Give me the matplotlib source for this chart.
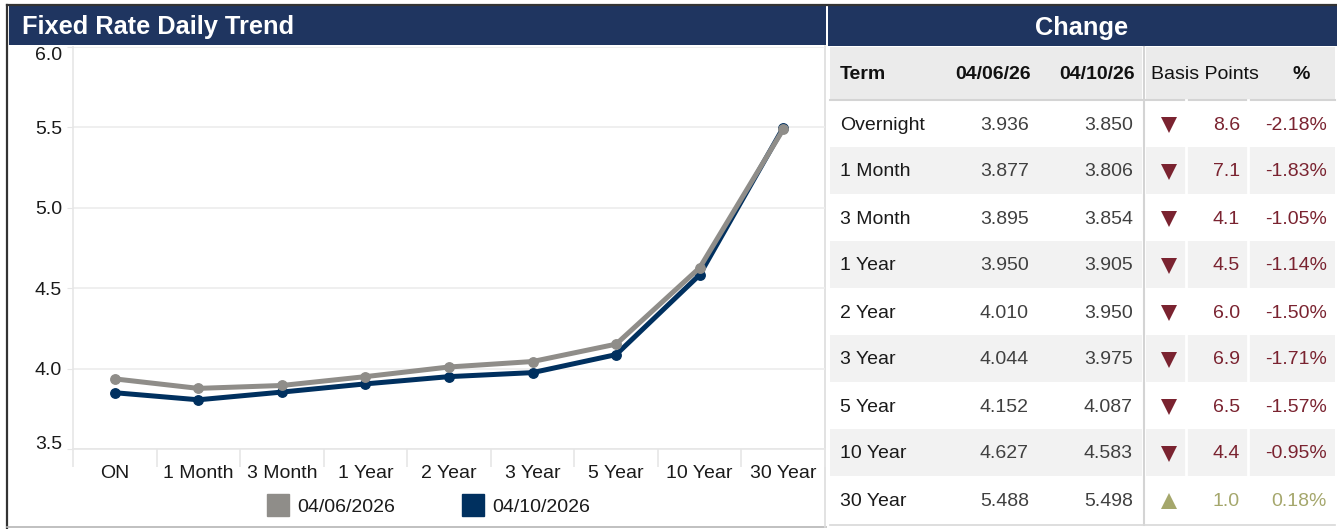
import matplotlib
matplotlib.use("Agg")
import matplotlib.pyplot as plt
from matplotlib.patches import Rectangle
from matplotlib.lines import Line2D
import numpy as np

plt.rcParams['font.family'] = ['Liberation Sans', 'DejaVu Sans']

# data
categories = ["ON", "1 Month", "3 Month", "1 Year", "2 Year", "3 Year", "5 Year", "10 Year", "30 Year"]
terms = ["Overnight", "1 Month", "3 Month", "1 Year", "2 Year", "3 Year", "5 Year", "10 Year", "30 Year"]
rate_0406 = [3.936, 3.877, 3.895, 3.950, 4.010, 4.044, 4.152, 4.627, 5.488]
rate_0410 = [3.850, 3.806, 3.854, 3.905, 3.950, 3.975, 4.087, 4.583, 5.498]
basis_points = [8.6, 7.1, 4.1, 4.5, 6.0, 6.9, 6.5, 4.4, 1.0]
pct_change = [-2.18, -1.83, -1.05, -1.14, -1.50, -1.71, -1.57, -0.95, 0.18]
yticks = [3.5, 4.0, 4.5, 5.0, 5.5, 6.0]
legend_labels = ["04/06/2026", "04/10/2026"]
col_headers = ["Term", "04/06/26", "04/10/26"]

NAVY_HDR = "#1f3560"
NAVY = "#00305f"
GRAY = "#8f8d89"
RED = "#7a2330"
OLIVE = "#a5a76c"
FS = 14

W, H = 1337, 529
fig = plt.figure(figsize=(W / 100, H / 100), dpi=100)

# pixel-space overlay for panels and table
bg = fig.add_axes([0, 0, 1, 1], zorder=0)
bg.set_xlim(0, W)
bg.set_ylim(H, 0)
bg.axis('off')

# headers
bg.add_patch(Rectangle((9, 6), 817, 39, color=NAVY_HDR, lw=0))
bg.add_patch(Rectangle((828, 6), 509, 40, color=NAVY_HDR, lw=0))
bg.text(22, 34, "Fixed Rate Daily Trend", color="white", fontsize=18.3,
        fontweight="bold", va="baseline", ha="left")
bg.text(1082, 35, "Change", color="white", fontsize=18.3,
        fontweight="bold", va="baseline", ha="center")

# outer frame
bg.plot([7, W], [5, 5], color="#333333", lw=1.6)
bg.plot([7, 7], [5, 528], color="#333333", lw=1.6)
bg.plot([7, 826], [527, 527], color="#b5b5b5", lw=1.2)
bg.plot([825, 825], [46, 527], color="#dddddd", lw=1.2)

# table
L0, L1 = 830, 1142
R0, R1 = 1146, 1335
hdr_top, hdr_bot = 47, 100
row_h = 47
bg.add_patch(Rectangle((L0, hdr_top), L1 - L0, hdr_bot - hdr_top, color="#ebebeb", lw=0))
bg.add_patch(Rectangle((R0, hdr_top), R1 - R0, hdr_bot - hdr_top, color="#ebebeb", lw=0))
for i in range(len(terms)):
    top = hdr_bot + i * row_h
    if i % 2 == 1:
        bg.add_patch(Rectangle((L0, top), L1 - L0, row_h, color="#f2f2f2", lw=0))
        bg.add_patch(Rectangle((R0, top), R1 - R0, row_h, color="#f2f2f2", lw=0))
bottom = hdr_bot + len(terms) * row_h
bg.plot([L0, L1], [hdr_bot, hdr_bot], color="#d4d4d4", lw=1.5)
bg.plot([R0, R1], [hdr_bot, hdr_bot], color="#d4d4d4", lw=1.5)
bg.plot([1144, 1144], [hdr_top, bottom + 2], color="#d4d4d4", lw=1.5)
for xs in [1186, 1248]:
    bg.plot([xs, xs], [hdr_bot, bottom], color="white", lw=2)
bg.plot([L0, R1], [bottom + 2, bottom + 2], color="#d8d8d8", lw=1.2)

hy = (hdr_top + hdr_bot) / 2 + 1
bg.text(840, hy, col_headers[0], fontsize=FS, fontweight="bold", color="#111111", va="center", ha="left")
bg.text(1031, hy, col_headers[1], fontsize=FS, fontweight="bold", color="#111111", va="center", ha="right")
bg.text(1135, hy, col_headers[2], fontsize=FS, fontweight="bold", color="#111111", va="center", ha="right")
bg.text(1151, hy, "Basis Points", fontsize=FS, color="#111111", va="center", ha="left")
bg.text(1301, hy, "%", fontsize=FS, fontweight="bold", color="#111111", va="center", ha="center")

for i, term in enumerate(terms):
    cy = hdr_bot + i * row_h + row_h / 2 + 1.5
    up = pct_change[i] > 0
    c = OLIVE if up else RED
    bg.text(840, cy, term, fontsize=FS, color="#1a1a1a", va="center", ha="left")
    bg.text(1029, cy, f"{rate_0406[i]:.3f}", fontsize=FS, color="#404040", va="center", ha="right")
    bg.text(1133, cy, f"{rate_0410[i]:.3f}", fontsize=FS, color="#404040", va="center", ha="right")
    bg.plot(1169, cy, marker="^" if up else "v", color=c, markersize=11.5, mew=0)
    bg.text(1240, cy, f"{basis_points[i]:.1f}", fontsize=FS, color=c, va="center", ha="right")
    bg.text(1327, cy, f"{pct_change[i]:.2f}%", fontsize=FS, color=c, va="center", ha="right")

# chart
ax = fig.add_axes([73 / W, (H - 449) / H, (825 - 73) / W, (449 - 47) / H], zorder=2)
ax.set_facecolor("none")
x = np.arange(len(categories))
ax.plot(x, rate_0410, color=NAVY, lw=3.6, marker="o", markersize=6.8, zorder=3)
ax.plot(x, rate_0406, color=GRAY, lw=3.6, marker="o", markersize=6.8, zorder=4)
ax.set_xlim(-0.5, len(categories) - 0.5)
ax.set_ylim(3.5, 6.0)
ax.set_yticks(yticks)
ax.set_yticklabels([f"{v:.1f}" for v in yticks], fontsize=FS, color="#1a1a1a")
ax.tick_params(axis="y", length=4, color="#e6e6e6", pad=4)
ylabels = ax.get_yticklabels()
ylabels[0].set_va("baseline")
ylabels[-1].set_va("top")
ax.grid(axis="y", color="#ececec", lw=1.2)
ax.set_axisbelow(True)
ax.set_xticks(x)
ax.set_xticklabels(categories, fontsize=FS, color="#1a1a1a")
ax.set_xticks(np.arange(len(categories) + 1) - 0.5, minor=True)
ax.tick_params(axis="x", which="major", length=0, pad=11.5)
ax.tick_params(axis="x", which="minor", length=13, color="#e6e6e6", width=1.2)
for s in ["top", "right"]:
    ax.spines[s].set_visible(False)
ax.spines["left"].set_color("#e6e6e6")
ax.spines["bottom"].set_color("#e6e6e6")
ax.spines["left"].set_linewidth(1.2)
ax.spines["bottom"].set_linewidth(1.2)

handles = [Line2D([], [], ls="none", marker="s", markersize=16.5, color=GRAY),
           Line2D([], [], ls="none", marker="s", markersize=16.5, color=NAVY)]
fig.legend(handles, legend_labels, loc="center", bbox_to_anchor=(428 / W, (H - 507) / H),
           ncol=2, frameon=False, fontsize=FS, handlelength=1.2, handletextpad=0.4,
           columnspacing=3.4, labelcolor="#1a1a1a")

fig.savefig("out.png", dpi=100)
